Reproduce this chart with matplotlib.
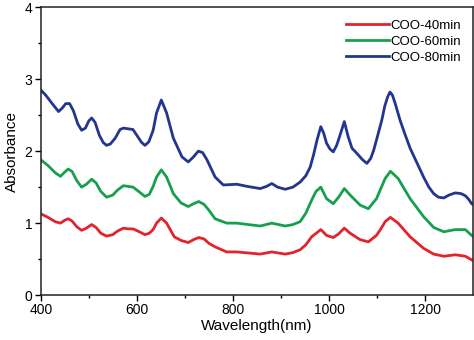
"""
UV-Vis-NIR absorbance of COO samples at 40, 60 and 80 min.
"""
import numpy as np
import matplotlib.pyplot as plt

plt.rcParams["font.family"] = ["Liberation Sans", "DejaVu Sans"]

wl_80 = [400, 410, 425, 437, 445, 452, 460, 468, 477, 485, 493, 500, 506, 513, 522,
         530, 537, 545, 555, 565, 572, 582, 592, 600, 610, 617, 625, 634, 641, 651,
         662, 676, 694, 707, 718, 728, 737, 746, 763, 780, 808, 830, 857, 870, 881,
         893, 909, 925, 940, 952, 961, 968, 975, 983, 989, 995, 1002, 1009, 1016, 1023,
         1032, 1040, 1048, 1058, 1070, 1079, 1087, 1093, 1100, 1110, 1116, 1122, 1127,
         1132, 1138, 1148, 1158, 1169, 1183, 1197, 1208, 1218, 1228, 1239, 1250, 1263,
         1275, 1284, 1291, 1297, 1300]
abs_80 = [2.85, 2.78, 2.65, 2.55, 2.60, 2.66, 2.66, 2.56, 2.38, 2.29, 2.32, 2.42, 2.46,
          2.40, 2.22, 2.12, 2.08, 2.10, 2.18, 2.30, 2.32, 2.31, 2.30, 2.22, 2.12, 2.08,
          2.13, 2.29, 2.53, 2.71, 2.53, 2.18, 1.92, 1.85, 1.92, 2.00, 1.98, 1.88, 1.64,
          1.53, 1.54, 1.51, 1.48, 1.51, 1.55, 1.50, 1.47, 1.50, 1.57, 1.66, 1.78, 1.95,
          2.15, 2.34, 2.25, 2.11, 2.03, 1.99, 2.08, 2.22, 2.41, 2.20, 2.04, 1.97, 1.88,
          1.83, 1.90, 2.01, 2.18, 2.43, 2.62, 2.75, 2.82, 2.78, 2.66, 2.43, 2.24, 2.04,
          1.84, 1.64, 1.50, 1.41, 1.36, 1.35, 1.39, 1.42, 1.41, 1.38, 1.33, 1.27, 1.26]

wl_60 = [400, 415, 430, 441, 450, 457, 465, 475, 485, 495, 506, 515, 525, 537, 550,
         560, 572, 582, 592, 602, 617, 626, 634, 641, 651, 662, 676, 692, 707, 718,
         729, 740, 750, 763, 787, 808, 857, 881, 909, 925, 940, 952, 964, 973, 983,
         995, 1009, 1020, 1032, 1044, 1065, 1082, 1099, 1108, 1117, 1128, 1144, 1169,
         1197, 1218, 1239, 1263, 1284, 1297, 1300]
abs_60 = [1.88, 1.80, 1.70, 1.65, 1.71, 1.75, 1.72, 1.59, 1.50, 1.54, 1.61, 1.56, 1.44,
          1.36, 1.39, 1.46, 1.52, 1.51, 1.50, 1.45, 1.37, 1.40, 1.51, 1.64, 1.74, 1.64,
          1.41, 1.28, 1.23, 1.27, 1.30, 1.26, 1.18, 1.06, 1.00, 1.00, 0.96, 1.00, 0.96,
          0.98, 1.02, 1.14, 1.32, 1.44, 1.50, 1.34, 1.27, 1.36, 1.48, 1.39, 1.25, 1.20,
          1.34, 1.48, 1.62, 1.72, 1.62, 1.34, 1.09, 0.94, 0.88, 0.91, 0.91, 0.83, 0.82]

wl_40 = [400, 415, 430, 441, 450, 457, 465, 475, 485, 495, 506, 515, 525, 537, 550,
         560, 572, 582, 592, 602, 617, 626, 634, 641, 651, 662, 678, 692, 707, 718,
         729, 740, 750, 763, 787, 808, 857, 881, 909, 925, 940, 952, 964, 983, 995,
         1009, 1020, 1032, 1044, 1065, 1082, 1099, 1108, 1117, 1128, 1144, 1169, 1197,
         1218, 1239, 1263, 1284, 1297, 1300]
abs_40 = [1.13, 1.08, 1.02, 1.00, 1.04, 1.06, 1.03, 0.95, 0.90, 0.93, 0.98, 0.94, 0.86,
          0.82, 0.84, 0.89, 0.93, 0.92, 0.92, 0.89, 0.84, 0.86, 0.91, 1.00, 1.07, 1.00,
          0.81, 0.76, 0.73, 0.77, 0.80, 0.78, 0.72, 0.67, 0.60, 0.60, 0.57, 0.60, 0.57,
          0.59, 0.63, 0.70, 0.81, 0.91, 0.83, 0.80, 0.85, 0.93, 0.86, 0.77, 0.74, 0.83,
          0.92, 1.02, 1.08, 1.00, 0.81, 0.65, 0.57, 0.54, 0.56, 0.54, 0.49, 0.48]

labels = ["COO-40min", "COO-60min", "COO-80min"]
colours = ["#e3232c", "#16a04e", "#23358f"]

fig = plt.figure(figsize=(4.74, 3.40), dpi=100)
ax = fig.add_axes([0.086, 0.132, 0.912, 0.847])

for wl, ab, lab, c in zip([wl_40, wl_60, wl_80], [abs_40, abs_60, abs_80], labels, colours):
    ax.plot(wl, ab, color=c, linewidth=2.0, label=lab)

ax.set_xlim(400, 1300)
ax.set_ylim(0, 4)
ax.set_xticks([400, 600, 800, 1000, 1200])
ax.set_xticks(np.arange(500, 1300, 200), minor=True)
ax.set_yticks([0, 1, 2, 3, 4])
ax.set_yticks([0.5, 1.5, 2.5, 3.5], minor=True)
ax.tick_params(which="major", direction="out", length=4, width=1, labelsize=10, pad=2)
ax.tick_params(which="minor", direction="out", length=2.5, width=1)
for s in ax.spines.values():
    s.set_linewidth(1.1)
    s.set_color("#222222")

ax.set_xlabel("Wavelength(nm)", fontsize=11, labelpad=1)
ax.set_ylabel("Absorbance", fontsize=11, labelpad=4)
ax.legend(loc="upper right", frameon=False, fontsize=9.5, handlelength=3.2,
          handletextpad=0.1, labelspacing=0.28, borderaxespad=0.55)

plt.savefig("out.png", dpi=100)
